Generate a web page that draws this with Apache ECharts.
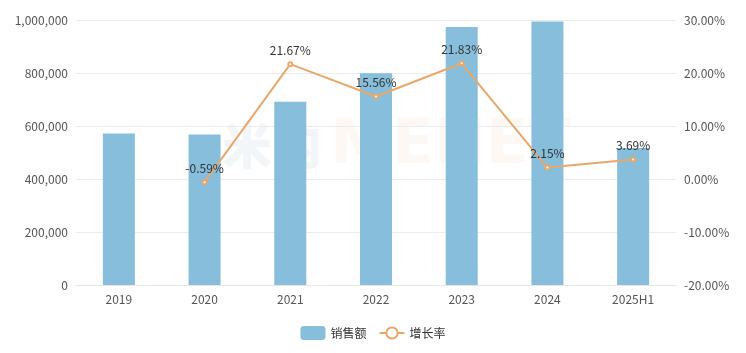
<!DOCTYPE html>
<html>
<head>
<meta charset="utf-8">
<script src="https://cdn.jsdelivr.net/npm/echarts@6/dist/echarts.min.js"></script>
<style>
  html, body { margin: 0; padding: 0; background: #fff; }
  #chart { width: 746px; height: 353px; }
</style>
</head>
<body>
<div id="chart"></div>
<script>
// 年份
const years = ['2019', '2020', '2021', '2022', '2023', '2024', '2025H1'];
// 销售额
const sales = [571700, 568300, 691400, 799000, 973500, 994400, 517000];
// 增长率 (%)
const growth = [null, -0.59, 21.67, 15.56, 21.83, 2.15, 3.69];

const chart = echarts.init(document.getElementById('chart'));

const option = {
  backgroundColor: '#fff',
  textStyle: { fontFamily: '"Noto Sans CJK SC", "Open Sans", sans-serif' },
  // 水印
  graphic: [
    {
      type: 'text',
      left: 222, top: 120,
      style: { text: '米内', fontSize: 50, fontWeight: 900, fontFamily: '"Noto Sans CJK SC"', fill: 'rgba(120,160,185,0.09)' }
    },
    {
      type: 'text',
      left: 330, top: 116,
      style: { text: 'MENET', fontSize: 62, fontWeight: 'bold', fontFamily: '"DejaVu Sans"', fill: 'rgba(240,160,110,0.08)' }
    }
  ],
  grid: { left: 76, right: 70, top: 20, bottom: 68 },
  legend: {
    bottom: 8,
    itemGap: 12,
    itemWidth: 25,
    itemHeight: 14,
    textStyle: { color: '#333', fontSize: 12 },
    data: [
      { name: '销售额', icon: 'roundRect' },
      { name: '增长率' }
    ]
  },
  xAxis: {
    type: 'category',
    data: years,
    axisTick: { show: false },
    axisLine: { lineStyle: { color: '#e6e6e6' } },
    axisLabel: { color: '#555', fontSize: 12, margin: 8 }
  },
  yAxis: [
    {
      type: 'value',
      min: 0, max: 1000000, interval: 200000,
      axisLine: { show: false },
      axisTick: { show: false },
      axisLabel: {
        color: '#555', fontSize: 12,
        formatter: v => v.toLocaleString('en-US')
      },
      splitLine: { lineStyle: { color: '#ececec' } }
    },
    {
      type: 'value',
      min: -20, max: 30, interval: 10,
      axisLine: { show: false },
      axisTick: { show: false },
      axisLabel: {
        color: '#555', fontSize: 12,
        formatter: v => v.toFixed(2) + '%'
      },
      splitLine: { show: false }
    }
  ],
  series: [
    {
      name: '销售额',
      type: 'bar',
      barWidth: 32,
      itemStyle: { color: '#86BEDB' },
      data: sales
    },
    {
      name: '增长率',
      type: 'line',
      yAxisIndex: 1,
      symbol: 'emptyCircle',
      symbolSize: 4,
      lineStyle: { color: '#E8A86A', width: 2 },
      itemStyle: { color: '#E8A86A' },
      label: {
        show: true,
        position: 'top',
        color: '#333',
        fontSize: 12,
        formatter: p => p.value.toFixed(2) + '%'
      },
      data: growth
    }
  ]
};

chart.setOption(option);
</script>
</body>
</html>
